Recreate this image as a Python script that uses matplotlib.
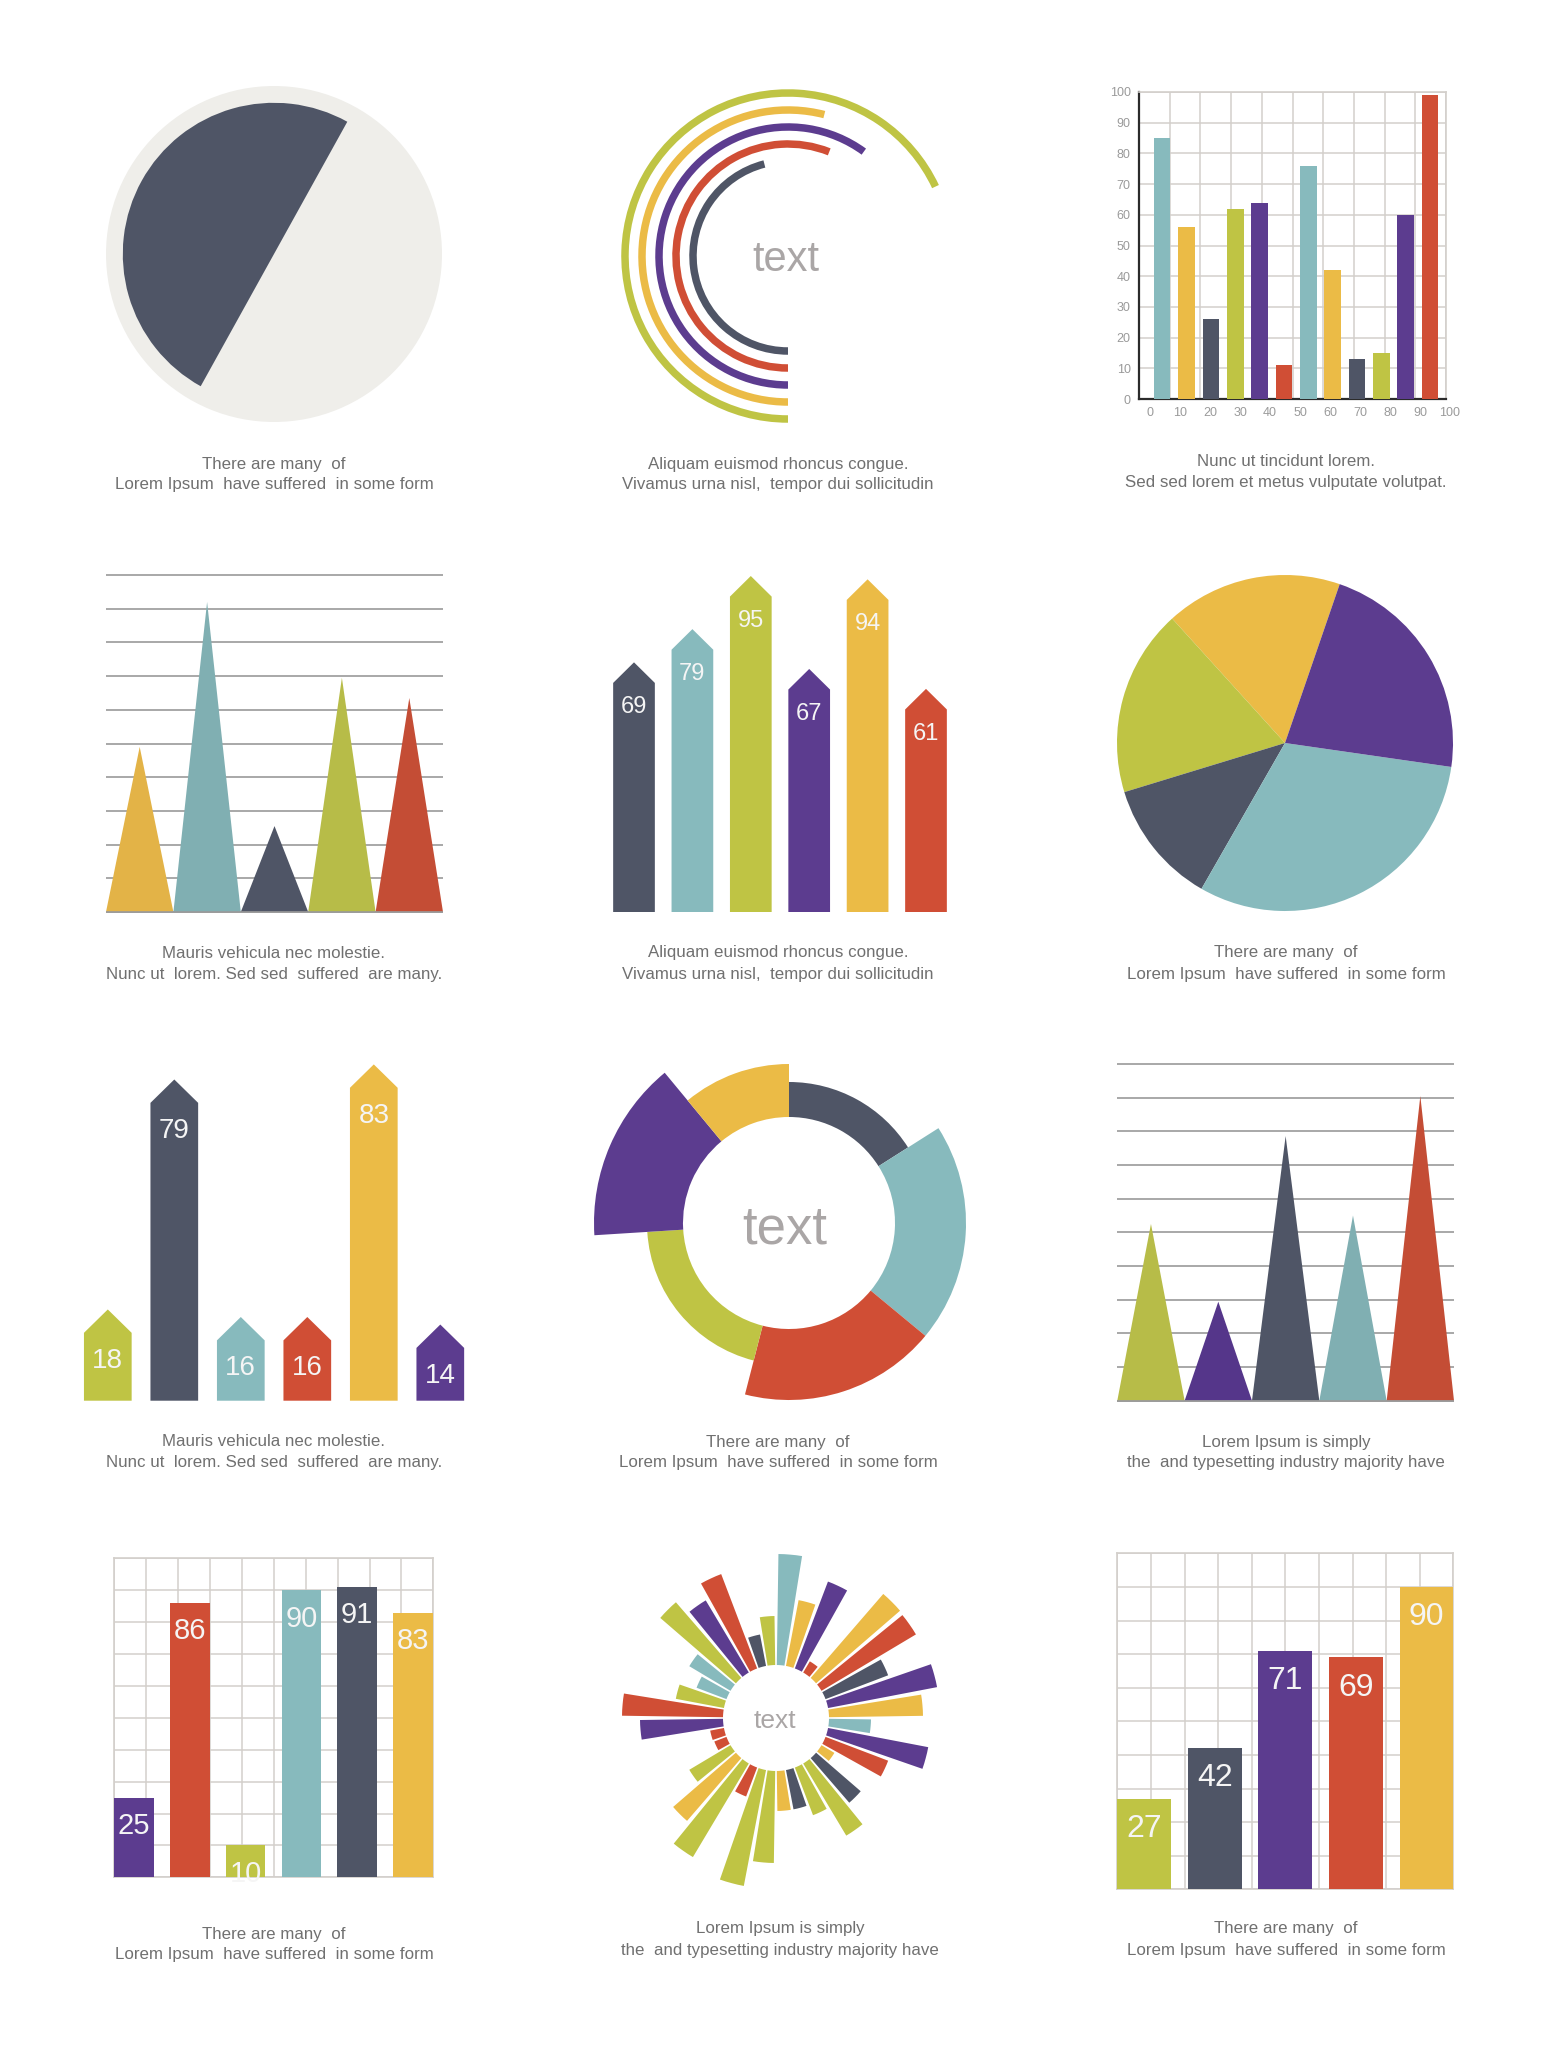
import numpy as np
import matplotlib
matplotlib.use('Agg')
import matplotlib.pyplot as plt
from matplotlib.patches import Wedge

plt.rcParams['font.family'] = ['Liberation Sans', 'DejaVu Sans']

W, H = 1546, 2048

DARK = '#4f5566'
TEAL = '#87babd'
LIME = '#bfc444'
PURPLE = '#5c3c8f'
YELLOW = '#ebbb46'
RED = '#d04e35'
LIGHT = '#efeeea'
GRID = '#d3cfcb'
CAPTION = '#707070'
CENTER_TXT = '#aaa6a6'
NUM = '#f5f5f5'

# ---- data ----
half_pie = [50, 50]

arc_pct = [68, 54, 60, 56, 46]
arc_colors = [LIME, YELLOW, PURPLE, RED, DARK]

grid_bars = [85, 56, 26, 62, 64, 11, 76, 42, 13, 15, 60, 99]
grid_bar_colors = [TEAL, YELLOW, DARK, LIME, PURPLE, RED] * 2
axis_ticks = list(range(0, 101, 10))

peaks_a = [4.9, 9.2, 2.55, 6.95, 6.35]
peaks_a_colors = ['#e3b347', '#80afb2', DARK, '#b7bc48', '#c44d35']

arrows_a = [69, 79, 95, 67, 94, 61]
arrows_a_colors = [DARK, TEAL, LIME, PURPLE, YELLOW, RED]

pie_vals = [17, 18, 12, 31, 22]
pie_colors = [YELLOW, LIME, DARK, TEAL, PURPLE]

arrows_b = [18, 79, 16, 16, 83, 14]
arrows_b_colors = [LIME, DARK, TEAL, RED, YELLOW, PURPLE]

donut_share = [16, 20, 18, 20, 15, 11]
donut_depth = [35, 71, 71, 36, 89, 53]
donut_colors = [DARK, TEAL, RED, LIME, PURPLE, YELLOW]

peaks_b = [5.25, 2.94, 7.86, 5.5, 9.05]
peaks_b_colors = ['#b7bc48', '#55368a', DARK, '#80afb2', '#c44d35']

bars_c = [25, 86, 10, 90, 91, 83]
bars_c_colors = [PURPLE, RED, LIME, TEAL, DARK, YELLOW]

burst_len = [111, 67, 93, 13, 111, 110, 67, 111, 94, 42, 102, 67,
             15, 59, 84, 51, 40, 40, 92, 118, 31, 109, 83, 48,
             13, 14, 83, 101, 49, 32, 48, 100, 84, 101, 32, 49]
burst_colors = [TEAL, YELLOW, PURPLE, RED, YELLOW, RED, DARK, PURPLE, YELLOW, TEAL, PURPLE, RED,
                YELLOW, DARK, LIME, LIME, DARK, YELLOW, LIME, LIME, RED, LIME, YELLOW, LIME,
                RED, RED, PURPLE, RED, LIME, TEAL, TEAL, LIME, PURPLE, RED, DARK, LIME]

bars_d = [27, 42, 71, 69, 90]
bars_d_colors = [LIME, DARK, PURPLE, RED, YELLOW]

cap_many = ['There are many  of', 'Lorem Ipsum  have suffered  in some form']
cap_aliquam = ['Aliquam euismod rhoncus congue.', 'Vivamus urna nisl,  tempor dui sollicitudin']
cap_nunc = ['Nunc ut tincidunt lorem.', 'Sed sed lorem et metus vulputate volutpat.']
cap_mauris = ['Mauris vehicula nec molestie.', 'Nunc ut  lorem. Sed sed  suffered  are many.']
cap_simply = ['Lorem Ipsum is simply', 'the  and typesetting industry majority have']

fig = plt.figure(figsize=(W / 100, H / 100), dpi=100, facecolor='white')


def box(left, top, width, height, **kw):
    ax = fig.add_axes([left / W, 1 - (top + height) / H, width / W, height / H], **kw)
    ax.set_facecolor('none')
    return ax


def caption(x, y, lines):
    for k, s in enumerate(lines):
        fig.text(x / W, 1 - (y + 2 + 21 * k) / H, s, ha='center', va='center',
                 fontsize=12.2, color=CAPTION)


def center_text(x, y, size):
    fig.text(x / W, 1 - y / H, 'text', ha='center', va='baseline',
             fontsize=size, color=CENTER_TXT)


def triangles(ax, peaks, colors):
    ax.set_xlim(0, 5)
    ax.set_ylim(0, 10)
    ax.axis('off')
    ax.hlines(range(11), 0, 5, color='#9a9a9a', lw=1.2, zorder=1, clip_on=False)
    for i, (h, c) in enumerate(zip(peaks, colors)):
        ax.fill([i, i + 0.5, i + 1], [0, h, 0], color=c, lw=0, zorder=2)
    ax.hlines([0], 0, 5, color='#9a9a9a', lw=1.2, zorder=3, clip_on=False)


def arrow_bars(ax, vals, colors, half, tip, lab_off, size, top):
    ax.set_xlim(0, len(vals))
    ax.set_ylim(0, top)
    ax.axis('off')
    for i, (v, c) in enumerate(zip(vals, colors)):
        cx = i + 0.5
        ax.fill([cx - half, cx - half, cx, cx + half, cx + half],
                [0, v, v + tip, v, 0], color=c, lw=0)
        ax.text(cx, v - lab_off, str(v), ha='center', va='center',
                fontsize=size, color=NUM)


def grid_panel(ax):
    ax.set_xlim(0, 100)
    ax.set_ylim(0, 100)
    ax.set_xticks(axis_ticks)
    ax.set_yticks(axis_ticks)
    ax.grid(True, color=GRID, lw=1.1)
    ax.set_axisbelow(True)
    ax.tick_params(length=0)
    for s in ax.spines.values():
        s.set_color(GRID)
        s.set_linewidth(1.2)


# ---- row 1 ----
ax = box(106, 86, 336, 336)
ax.pie([100], colors=[LIGHT], radius=1, wedgeprops=dict(linewidth=0))
ax.pie(half_pie, colors=[DARK, 'none'], radius=0.9, startangle=61,
       wedgeprops=dict(linewidth=0))
ax.set_xlim(-1, 1)
ax.set_ylim(-1, 1)
caption(274, 462, cap_many)

ax = box(788 - 170, 256 - 170, 340, 340)
ax.set_xlim(-170, 170)
ax.set_ylim(-170, 170)
ax.set_aspect('equal')
ax.axis('off')
for i, (p, c) in enumerate(zip(arc_pct, arc_colors)):
    r = 163 - 17 * i
    ax.add_patch(Wedge((0, 0), r + 3.75, 270 - 3.6 * p, 270, width=7.5, color=c, lw=0))
center_text(786, 271, 30)
caption(778, 462, cap_aliquam)

ax = box(1139, 92, 307, 307)
grid_panel(ax)
ax.bar(7.55 + 7.93 * np.arange(len(grid_bars)), grid_bars, width=5.4,
       color=grid_bar_colors, zorder=3)
ax.set_xticklabels([])
ax.set_yticklabels([str(t) for t in axis_ticks])
ax.tick_params(labelsize=9, labelcolor='#9a9a9a', pad=6)
for lab, xp in zip(axis_ticks, np.linspace(3.6, 101.3, len(axis_ticks))):
    ax.text(xp, -4.7, str(lab), ha='center', va='center', fontsize=9,
            color='#9a9a9a', clip_on=False)
ax.spines['left'].set_color('#2b2b2b')
ax.spines['bottom'].set_color('#2b2b2b')
ax.spines['left'].set_linewidth(1.6)
ax.spines['bottom'].set_linewidth(1.6)
caption(1286, 460, cap_nunc)

# ---- row 2 ----
ax = box(106, 575, 337, 337)
triangles(ax, peaks_a, peaks_a_colors)
caption(274, 951, cap_mauris)

ax = box(604.8, 912 - 105 * 3.32, 6 * 58.4, 105 * 3.32)
arrow_bars(ax, arrows_a, arrows_a_colors, 0.357, 6.2, 7.3, 17, 105)
caption(778, 951, cap_aliquam)

ax = box(1285 - 168, 743 - 168, 336, 336)
ax.pie(pie_vals, colors=pie_colors, startangle=71, counterclock=True,
       wedgeprops=dict(linewidth=0))
ax.set_xlim(-1, 1)
ax.set_ylim(-1, 1)
caption(1286, 951, cap_many)

# ---- row 3 ----
ax = box(74.55, 1400.7 - 95 * 3.77, 6 * 66.5, 95 * 3.77)
arrow_bars(ax, arrows_b, arrows_b_colors, 0.3586, 6.2, 7.4, 20, 95)
caption(274, 1440, cap_mauris)

ax = box(789 - 200, 1223 - 200, 400, 400, projection='polar')
ax.set_theta_zero_location('N')
ax.set_theta_direction(-1)
share = np.array(donut_share) / 100 * 2 * np.pi
start = np.concatenate([[0], np.cumsum(share)[:-1]])
ax.bar(start, donut_depth, width=share, bottom=106, align='edge',
       color=donut_colors, lw=0)
ax.set_rlim(0, 200)
ax.set_axis_off()
center_text(785, 1243, 38)
caption(778, 1440, cap_many)

ax = box(1117.3, 1064, 336.7, 336.7)
triangles(ax, peaks_b, peaks_b_colors)
caption(1286, 1440, cap_simply)

# ---- row 4 ----
ax = box(114.3, 1558.3, 319, 319)
grid_panel(ax)
ax.set_xticklabels([])
ax.set_yticklabels([])
pos = 6.2 + 17.48 * np.arange(len(bars_c))
ax.bar(pos, bars_c, width=12.4, color=bars_c_colors, zorder=3)
for x, v in zip(pos, bars_c):
    ax.text(x, v - 8.9, str(v), ha='center', va='center', fontsize=21,
            color=NUM, zorder=4)
caption(274, 1932, cap_many)

ax = box(776 - 180, 1718 - 180, 360, 360, projection='polar')
ax.set_theta_zero_location('N')
ax.set_theta_direction(-1)
theta = np.deg2rad(5 + 10 * np.arange(len(burst_len)))
ax.bar(theta, burst_len, width=np.deg2rad(8.3), bottom=53,
       color=burst_colors, lw=0)
ax.set_rlim(0, 180)
ax.set_axis_off()
center_text(775, 1728, 19)
caption(780, 1927, cap_simply)

ax = box(1117.3, 1553.3, 336, 336)
grid_panel(ax)
ax.set_xticklabels([])
ax.set_yticklabels([])
pos = 8 + 21 * np.arange(len(bars_d))
ax.bar(pos, bars_d, width=16, color=bars_d_colors, zorder=3)
for x, v in zip(pos, bars_d):
    ax.text(x, v - 9, str(v), ha='center', va='center', fontsize=23,
            color=NUM, zorder=4)
caption(1286, 1927, cap_many)

fig.savefig('out.png', dpi=100, facecolor='white')
